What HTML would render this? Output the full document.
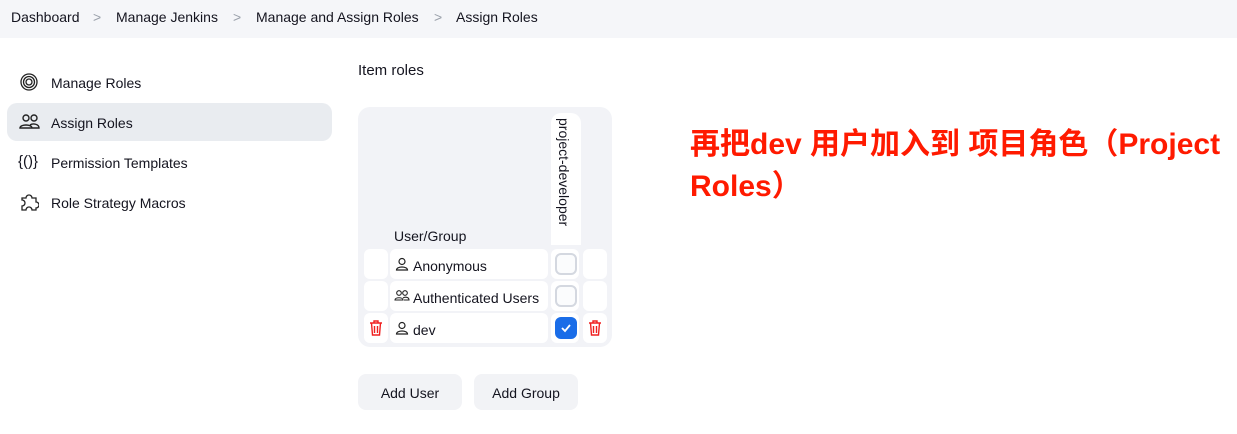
<!DOCTYPE html>
<html><head><meta charset="utf-8"><style>
*{margin:0;padding:0;box-sizing:border-box}
body{width:1237px;height:434px;background:#fff;font-family:"Liberation Sans","Noto Sans CJK SC",sans-serif;color:#14141f;position:relative;overflow:hidden;font-size:14px}
.bc{position:absolute;left:0;top:0;width:1237px;height:38px;background:#f5f6f9}
.bc span{position:absolute;top:9px;font-size:14px}
.bc .s{color:#9aa0aa}
.nav{position:absolute;left:7px;width:325px;height:38px;border-radius:10px}
.nav .t{position:absolute;left:44px;top:12px;font-size:14px}
.nav svg{position:absolute;left:12px;top:9px}
.abs{position:absolute}
.tbl{position:absolute;left:358px;top:107px;width:254px;height:240px;background:#f2f3f7;border-radius:12px}
.cell{position:absolute;background:#fff;border-radius:6px}
.cb{position:absolute;width:22px;height:22px;border:2px solid #d4d8e0;border-radius:6px;background:#fbfcfd}
.btn{position:absolute;top:374px;height:36px;background:#f2f3f6;border-radius:8px;font-size:14px;text-align:center;line-height:38px}
.red{position:absolute;left:690px;color:#ff1a00;font-weight:bold;font-size:30px;font-family:"Liberation Sans","Noto Sans CJK SC",sans-serif;white-space:nowrap;letter-spacing:0}
</style></head><body>
<div class="bc">
<span style="left:11px">Dashboard</span><span class="s" style="left:93px">&gt;</span>
<span style="left:116px">Manage Jenkins</span><span class="s" style="left:233px">&gt;</span>
<span style="left:256px">Manage and Assign Roles</span><span class="s" style="left:434px">&gt;</span>
<span style="left:456px">Assign Roles</span>
</div>
<div class="nav" style="top:63px"><svg width="20" height="20" viewBox="0 0 20 20" fill="none" stroke="#222" stroke-width="1.3"><circle cx="10" cy="10" r="8"/><circle cx="10" cy="10" r="5.5"/><circle cx="10" cy="10" r="3"/></svg><span class="t">Manage Roles</span></div>
<div class="nav" style="top:103px;background:#e9ecf0"><svg width="22" height="20" viewBox="0 0 22 20" fill="none" stroke="#222" stroke-width="1.4"><circle cx="7" cy="6" r="3"/><circle cx="15" cy="6" r="3"/><path d="M1 16c0-4 12-4 12 0zM11 13c3-2 9-1 9 3h-7"/></svg><span class="t">Assign Roles</span></div>
<div class="nav" style="top:143px"><span class="abs" style="left:11px;top:10px;font-size:15px">{()}</span><span class="t">Permission Templates</span></div>
<div class="nav" style="top:183px"><svg width="20" height="20" viewBox="0 0 20 20" fill="none" stroke="#222" stroke-width="1.3"><path d="M3 6h4a3 3 0 016 0h4v4a3 3 0 010 6v2H13a3 3 0 00-6 0H3v-4a3 3 0 000-6z"/></svg><span class="t">Role Strategy Macros</span></div>
<div class="abs" style="left:358px;top:62px;font-size:15px">Item roles</div>
<div class="tbl"></div>
<div class="cell" style="left:551px;top:113px;width:30px;height:132px;border-radius:10px 10px 0 0"></div>
<div class="abs" style="left:556px;top:118px;writing-mode:vertical-rl;font-size:14px">project-developer</div>
<div class="abs" style="left:394px;top:228px">User/Group</div>
<div class="cell" style="left:364px;top:249px;width:24px;height:30px"></div>
<div class="cell" style="left:390px;top:249px;width:158px;height:30px"></div>
<div class="cell" style="left:551px;top:249px;width:28px;height:30px"></div>
<div class="cell" style="left:583px;top:249px;width:24px;height:30px"></div>
<div class="cell" style="left:364px;top:281px;width:24px;height:30px"></div>
<div class="cell" style="left:390px;top:281px;width:158px;height:30px"></div>
<div class="cell" style="left:551px;top:281px;width:28px;height:30px"></div>
<div class="cell" style="left:583px;top:281px;width:24px;height:30px"></div>
<div class="cell" style="left:364px;top:313px;width:24px;height:30px"></div>
<div class="cell" style="left:390px;top:313px;width:158px;height:30px"></div>
<div class="cell" style="left:551px;top:313px;width:28px;height:30px"></div>
<div class="cell" style="left:583px;top:313px;width:24px;height:30px"></div>
<div class="cb" style="left:555px;top:253px"></div>
<div class="cb" style="left:555px;top:285px"></div>
<div class="cb" style="left:555px;top:317px;background:#1a6de8;border-color:#1a6de8"><svg width="18" height="18" viewBox="0 0 18 18" style="position:absolute;left:0;top:0"><path d="M5 9l3 3 5-6" fill="none" stroke="#fff" stroke-width="1.8"/></svg></div>
<svg class="abs" style="left:395px;top:257px" width="14" height="14" viewBox="0 0 14 14" fill="none" stroke="#222" stroke-width="1.2"><circle cx="7" cy="4.5" r="3"/><path d="M1.5 13c0-4 11-4 11 0z"/></svg>
<div class="abs" style="left:413px;top:258px">Anonymous</div>
<svg class="abs" style="left:394px;top:289px" width="16" height="14" viewBox="0 0 16 14" fill="none" stroke="#222" stroke-width="1.1"><circle cx="5" cy="4" r="2.3"/><circle cx="11" cy="4" r="2.3"/><path d="M1 11c0-3 8-3 8 0zM9 9c2-1.5 6-1 6 2h-5"/></svg>
<div class="abs" style="left:413px;top:290px">Authenticated Users</div>
<svg class="abs" style="left:395px;top:321px" width="14" height="14" viewBox="0 0 14 14" fill="none" stroke="#222" stroke-width="1.2"><circle cx="7" cy="4.5" r="3"/><path d="M1.5 13c0-4 11-4 11 0z"/></svg>
<div class="abs" style="left:413px;top:322px">dev</div>
<svg class="abs" style="left:369px;top:320px" width="14" height="16" viewBox="0 0 14 16" fill="none" stroke="#f02020" stroke-width="1.4"><path d="M1 3h12M5 3V1h4v2M2.5 3l1 12h7l1-12M5.5 6v7M8.5 6v7"/></svg>
<svg class="abs" style="left:588px;top:320px" width="14" height="16" viewBox="0 0 14 16" fill="none" stroke="#f02020" stroke-width="1.4"><path d="M1 3h12M5 3V1h4v2M2.5 3l1 12h7l1-12M5.5 6v7M8.5 6v7"/></svg>
<div class="btn" style="left:358px;width:104px">Add User</div>
<div class="btn" style="left:474px;width:104px">Add Group</div>
<div class="red" style="top:119px">再把dev 用户加入到 项目角色（Project</div>
<div class="red" style="top:161px">Roles）</div>
</body></html>
